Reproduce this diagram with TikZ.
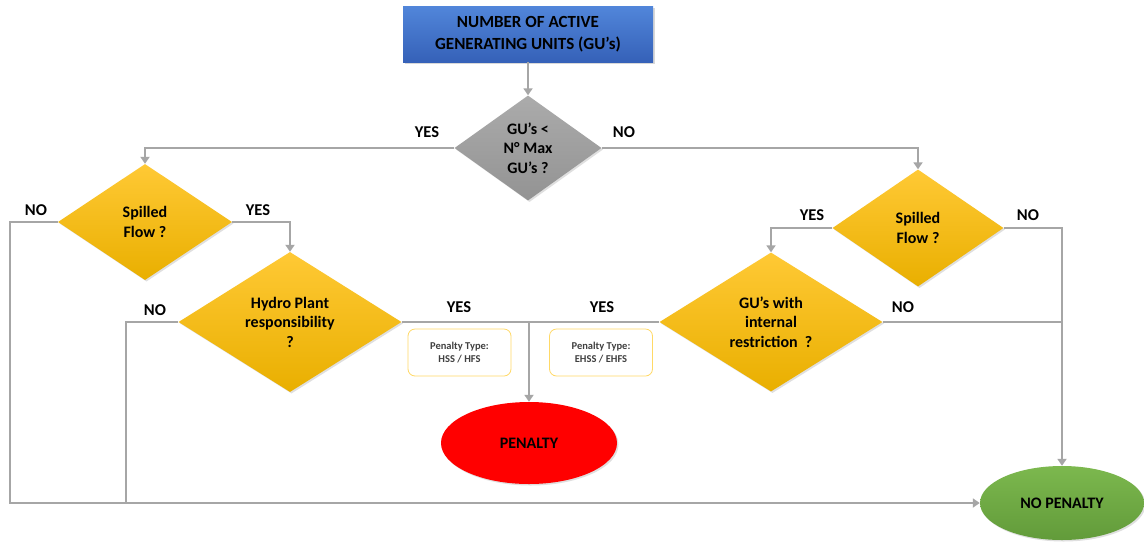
\documentclass[tikz,border=0pt]{standalone}
\usepackage{fontspec}
\setmainfont{Carlito}
\usetikzlibrary{shapes.geometric,arrows.meta,shadows}
\definecolor{lnc}{HTML}{A6A6A6}
\definecolor{yelT}{HTML}{FFC935}
\definecolor{yelB}{HTML}{E9AF00}
\definecolor{bluT}{HTML}{5186DA}
\definecolor{bluB}{HTML}{3561B8}
\definecolor{gryT}{HTML}{ABABAB}
\definecolor{gryB}{HTML}{939393}
\definecolor{grnT}{HTML}{7CB84E}
\definecolor{grnB}{HTML}{629B3A}
\definecolor{redF}{HTML}{FF0000}
\definecolor{pbox}{HTML}{FFD966}
\begin{document}
\begin{tikzpicture}[x=1pt,y=-1pt,
  font=\bfseries,
  conn/.style={draw=lnc,line width=2.8pt},
  arr/.style={conn,-{Triangle[width=9pt,length=7pt]}},
  dec/.style={diamond,inner sep=0pt,align=center,font=\fontsize{16}{19.5}\selectfont\bfseries,
    top color=yelT,bottom color=yelB,drop shadow={opacity=0.25,shadow xshift=1.5pt,shadow yshift=-1.5pt}},
  lbl/.style={font=\fontsize{16.5}{18}\selectfont\bfseries},
  ptype/.style={draw=pbox,line width=0.8pt,rounded corners=7pt,minimum width=103pt,minimum height=47pt,
    align=center,font=\fontsize{10.5}{13}\selectfont\bfseries,text=black!75},
  term/.style={ellipse,inner sep=0pt,font=\fontsize{16}{18}\selectfont\bfseries,
    drop shadow={opacity=0.25,shadow xshift=1.5pt,shadow yshift=-1.5pt}}
]
\useasboundingbox (0,0) rectangle (1144,542);
\fill[white] (0,0) rectangle (1144,542);

\node[top color=bluT,bottom color=bluB,minimum width=250pt,minimum height=56pt,inner sep=0pt,
  align=center,font=\fontsize{17}{22}\selectfont\bfseries,
  drop shadow={opacity=0.3,shadow xshift=1.5pt,shadow yshift=-1.5pt}]
  (top) at (528,34) {NUMBER OF ACTIVE\\GENERATING UNITS (GU’s)};

\node[diamond,inner sep=0pt,minimum width=147pt,minimum height=105pt,align=center,
  top color=gryT,bottom color=gryB,font=\fontsize{16}{19.5}\selectfont\bfseries,
  drop shadow={opacity=0.25,shadow xshift=1.5pt,shadow yshift=-1.5pt}]
  (gd) at (528,148) {GU’s <\\N° Max\\GU’s ?};

\node[dec,minimum width=174pt,minimum height=116pt] (sl) at (145,222) {Spilled\\Flow ?};
\node[dec,minimum width=171pt,minimum height=117pt] (sr) at (918,228) {Spilled\\Flow ?};
\node[dec,minimum width=223pt,minimum height=140pt] (hp) at (290,322) {Hydro Plant\\responsibility\\?};
\node[dec,minimum width=223pt,minimum height=139pt] (gi) at (771,322) {GU’s with\\internal\\restriction ~?};

\node[ptype] (p1) at (459.5,352.5) {Penalty Type:\\HSS / HFS};
\node[ptype] (p2) at (601,352.5) {Penalty Type:\\EHSS / EHFS};

\node[term,fill=redF,minimum width=176pt,minimum height=82pt] (pen) at (529,443) {PENALTY};
\node[term,top color=grnT,bottom color=grnB,minimum width=164pt,minimum height=74pt] (np) at (1062,503) {NO PENALTY};

\coordinate (cL) at (10,503);
\coordinate (cL2) at (126,503);
\coordinate (cP) at (529,322);
\coordinate (cR) at (1062,322);

\draw[arr] (top) -- (gd);
\draw[arr] (gd.west) -| (sl.north);
\draw[arr] (gd.east) -| (sr.north);
\draw[arr] (sl.west) -| (cL) -- (np.west);
\draw[arr] (sl.east) -| (hp.north);
\draw[conn] (hp.west) -| (cL2);
\draw[conn] (hp.east) -- (gi.west);
\draw[arr] (cP) -- (pen.north);
\draw[arr] (sr.west) -| (gi.north);
\draw[arr] (sr.east) -| (np.north);
\draw[conn] (gi.east) -- (cR);

\node[lbl] (l1) at (427,132) {YES};
\node[lbl] (l2) at (624,132) {NO};
\node[lbl] (l3) at (36,210) {NO};
\node[lbl] (l4) at (258,210) {YES};
\node[lbl] (l5) at (155,310) {NO};
\node[lbl] (l6) at (459,307) {YES};
\node[lbl] (l7) at (602,307) {YES};
\node[lbl] (l8) at (812,215) {YES};
\node[lbl] (l9) at (1028,215) {NO};
\node[lbl] (l10) at (903,307) {NO};
\end{tikzpicture}
\end{document}
